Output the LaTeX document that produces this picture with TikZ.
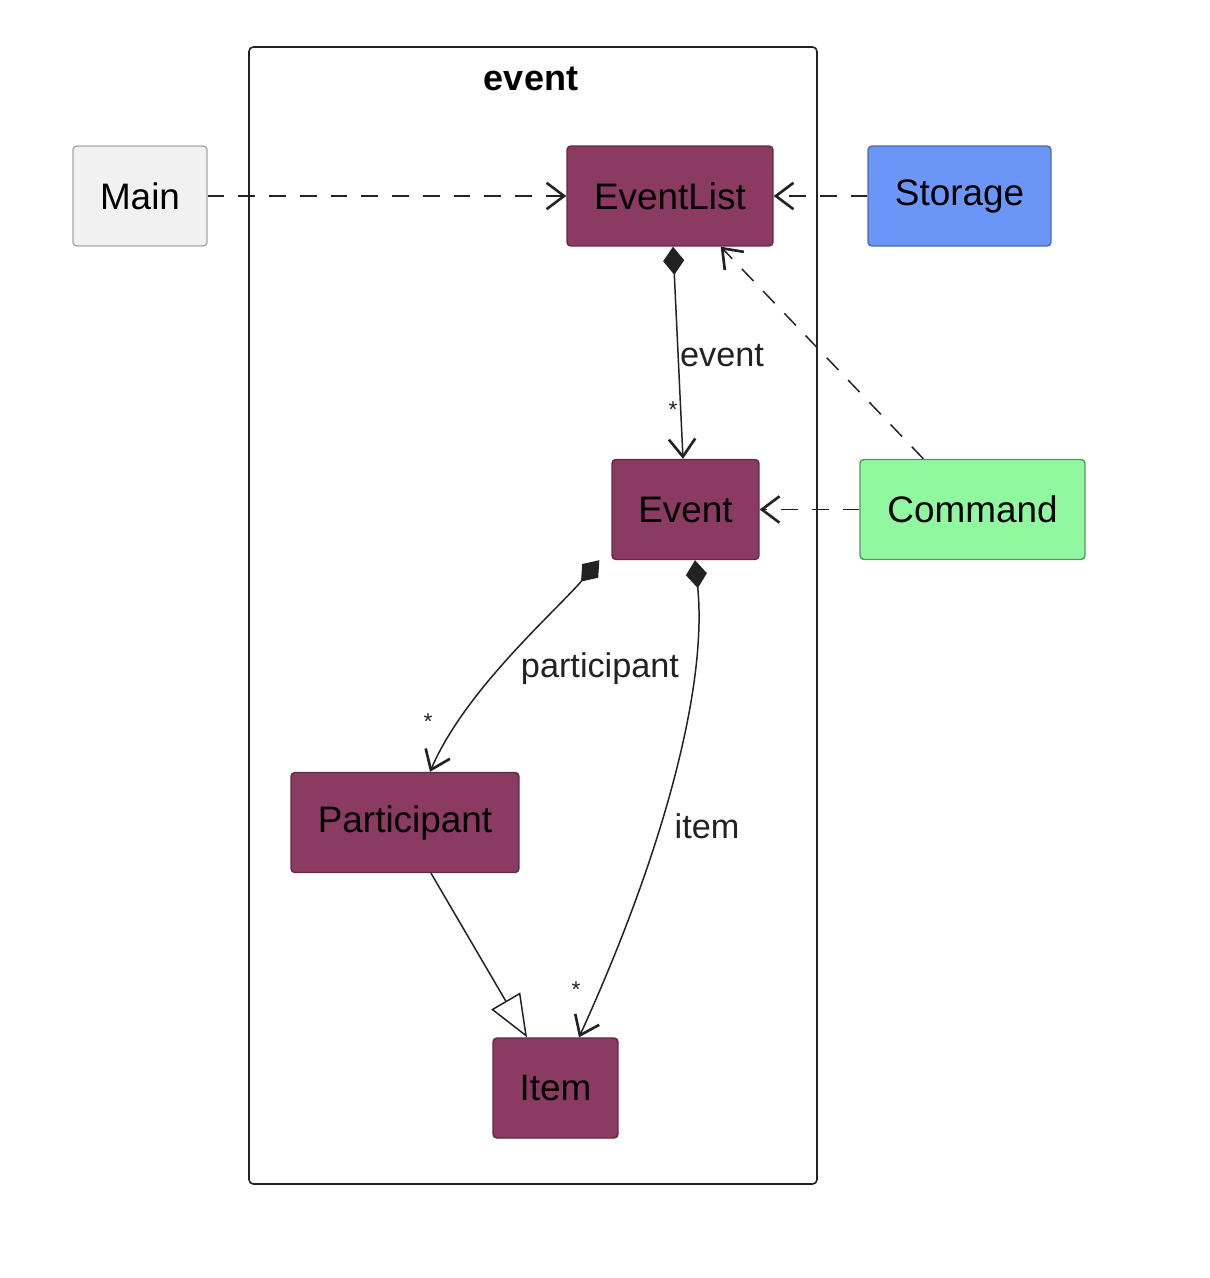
\documentclass[tikz,border=0pt]{standalone}
\usepackage{fontspec}
\setmainfont{Liberation Sans}
\usetikzlibrary{arrows.meta,calc}
\definecolor{cls}{HTML}{8B3A62}
\definecolor{mainc}{HTML}{F1F1F1}
\definecolor{storc}{HTML}{6B96F8}
\definecolor{cmdc}{HTML}{90F9A0}
\definecolor{ink}{HTML}{222222}
\tikzset{
  box/.style={draw=#1, rounded corners=2.2pt, line width=0.8pt, inner sep=0pt,
    minimum height=2cm, font=\fontsize{21}{24}\selectfont, text=black},
  klass/.style={box=cls!70!black, fill=cls},
  tipv/.tip={Straight Barb[length=10pt,width=15pt,line width=1.5pt]},
  dep/.style={draw=ink, line width=0.85pt, dash pattern=on 9.5pt off 8pt, -tipv},
  comp/.style={draw=ink, line width=0.85pt,
    {Diamond[length=16pt,width=12pt]}-tipv},
  gen/.style={draw=ink, line width=0.85pt, -{Triangle[open,length=24pt,width=19pt,fill=white]}},
  lbl/.style={font=\fontsize{19.5}{22}\selectfont, text=ink, inner sep=1pt},
  mult/.style={font=\fontsize{13}{14}\selectfont, text=ink, inner sep=0pt},
}
\begin{document}
\begin{tikzpicture}[x=0.02cm,y=-0.02cm]
\useasboundingbox (0,0) rectangle (1210,1278);
% package frame
\draw[ink, line width=0.9pt, rounded corners=2.5pt] (249,47) rectangle (817,1184);
\node[font=\bfseries\fontsize{20.5}{23}\selectfont] (pkg) at (531,79) {event};
% nodes
\node[box=gray!70, fill=mainc, minimum width=2.68cm] (main) at (140,196) {Main};
\node[klass, minimum width=4.12cm] (el) at (670,196) {EventList};
\node[box=storc!70!black, fill=storc, minimum width=3.66cm] (st) at (959.5,196) {Storage};
\node[klass, minimum width=2.94cm] (ev) at (685.5,509.5) {Event};
\node[box=cmdc!60!black, fill=cmdc, minimum width=4.5cm] (cmd) at (972.5,509.5) {Command};
\node[klass, minimum width=4.56cm] (pa) at (405,822.5) {Participant};
\node[klass, minimum width=2.5cm] (it) at (555.5,1088) {Item};
% dependencies
\draw[dep] (main.east) -- (el.west);
\draw[dep] (st.west) -- (el.east);
\draw[dep] (cmd.west) -- (ev.east);
\draw[dep] ($(cmd.north west)+(64,0)$) coordinate (c1) -- ($(el.south east)+(-53,0)$) coordinate (c2);
% compositions
\draw[comp] (el.south -| 673,0) -- (ev.north -| 683,0);
\node[lbl] (l1) at (722,356) {event};
\node[mult] (m1) at (673,410) {*};
\draw[comp] ($(ev.south west)+(-12,0)$) .. controls (555,612) and (465,690) .. (pa.north -| 430,0);
\node[lbl] (l2) at (600,669) {participant};
\node[mult] (m2) at (428,722) {*};
\draw[comp] (ev.south -| 695,0) .. controls (708,690) and (660,860) .. (it.north -| 579,0);
\node[lbl] (l3) at (707,826) {item};
\node[mult] (m3) at (576,990) {*};
% generalization
\draw[gen] (pa.south -| 431,0) -- (it.north -| 527,0);
\end{tikzpicture}
\end{document}
